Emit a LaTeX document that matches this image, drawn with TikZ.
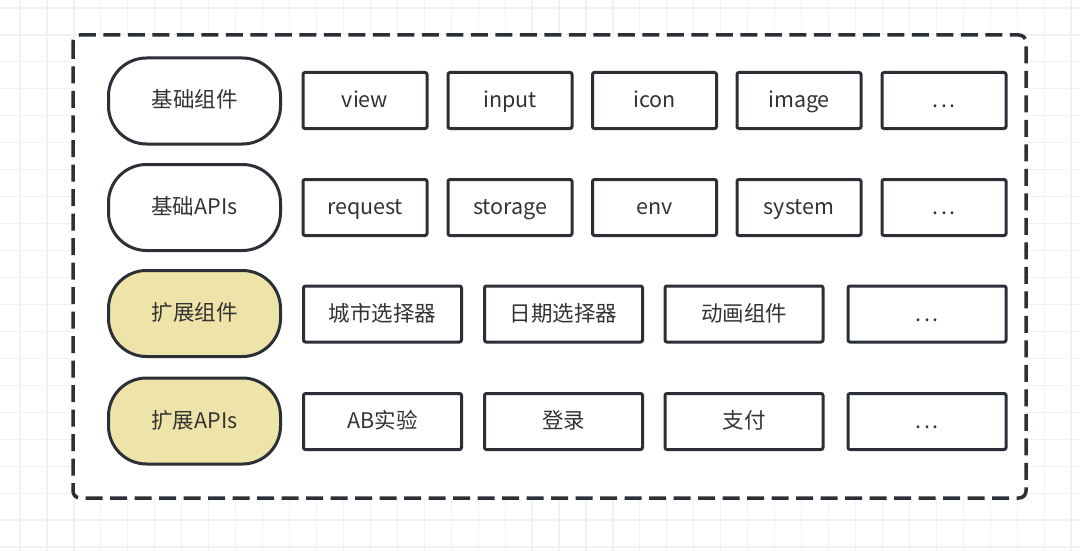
\documentclass[tikz,border=0pt]{standalone}
\usepackage{fontspec}
\setmainfont{Noto Sans CJK SC}
\definecolor{ink}{HTML}{2B2F36}
\definecolor{txt}{HTML}{333333}
\definecolor{gridc}{HTML}{F1F1F1}
\definecolor{pale}{HTML}{EEE3A8}
\newcommand{\dotsx}{.\hspace{2.5pt}.\hspace{2.5pt}.}
\tikzset{
  base/.style={draw=ink, line width=3pt, fill=white, text=txt, inner sep=0pt,
    font=\fontsize{21.5}{24}\selectfont, text height=17pt, text depth=3pt},
  pill/.style={base, rounded corners=38pt, minimum width=172pt, minimum height=86pt},
  ext/.style={pill, fill=pale},
  item/.style={base, rounded corners=2pt, minimum height=56pt},
  r1/.style={item, minimum width=124pt},
  r3/.style={item, minimum width=158pt},
  outer/.style={draw=ink, line width=3.5pt, dash pattern=on 17pt off 7.5pt, rounded corners=7pt, fill=white}
}
\begin{document}
\begin{tikzpicture}[x=1pt,y=-1pt]
\useasboundingbox (0,0) rectangle (1080,551);
\fill[white] (0,0) rectangle (1080,551);
\foreach \i in {0,...,40} { \draw[gridc, line width=1.2pt] ({20+26.95*\i},0) -- ({20+26.95*\i},551); }
\foreach \j in {0,...,20} { \draw[gridc, line width=1.2pt] (0,{8+26.95*\j}) -- (1080,{8+26.95*\j}); }
\path[outer] (73,35) rectangle (1026,498);
% left pills
\node[pill] (p1) at (194.5,101) {基础组件};
\node[pill] (p2) at (194.5,207.5) {基础APIs};
\node[ext] (p3) at (194.5,313.5) {扩展组件};
\node[ext] (p4) at (194.5,421) {扩展APIs};
% row boxes
\node[r1] (a1) at (365,100.5) {view};
\node[r1] (a2) at (510,100.5) {input};
\node[r1] (a3) at (654.5,100.5) {icon};
\node[r1] (a4) at (799,100.5) {image};
\node[r1] (a5) at (944,100.5) {\dotsx};
\node[r1] (b1) at (365,207.5) {request};
\node[r1] (b2) at (510,207.5) {storage};
\node[r1] (b3) at (654.5,207.5) {env};
\node[r1] (b4) at (799,207.5) {system};
\node[r1] (b5) at (944,207.5) {\dotsx};
\node[r3] (c1) at (382.5,314) {城市选择器};
\node[r3] (c2) at (563.5,314) {日期选择器};
\node[r3] (c3) at (744,314) {动画组件};
\node[r3] (c4) at (927,314) {\dotsx};
\node[r3] (d1) at (382.5,421.5) {AB实验};
\node[r3] (d2) at (563.5,421.5) {登录};
\node[r3] (d3) at (744,421.5) {支付};
\node[r3] (d4) at (927,421.5) {\dotsx};
\end{tikzpicture}
\end{document}
